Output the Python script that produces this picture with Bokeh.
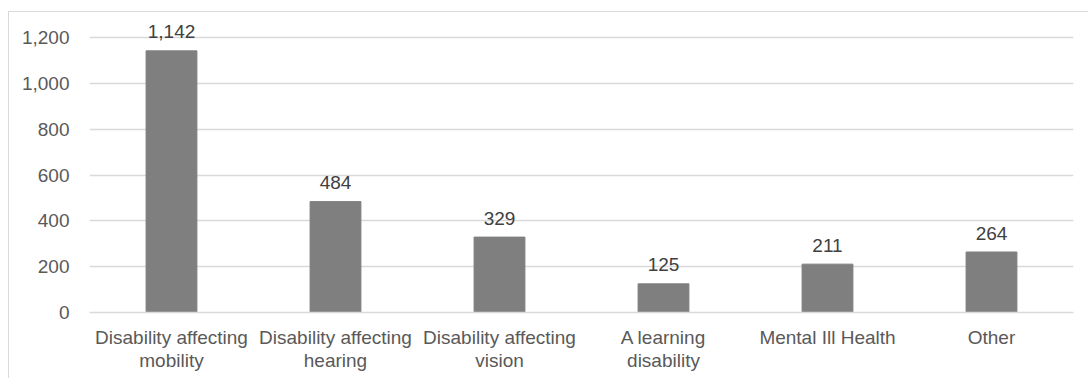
from bokeh.plotting import figure
from bokeh.models import (ColumnDataSource, FixedTicker, NumeralTickFormatter, LabelSet,
                          Range1d, CategoricalAxis, CustomJSTickFormatter)
from bokeh.core.properties import value
from bokeh.embed import file_html
from bokeh.resources import INLINE

categories = ["Disability affecting mobility", "Disability affecting hearing",
              "Disability affecting vision", "A learning disability",
              "Mental Ill Health", "Other"]
label_line1 = ["Disability affecting", "Disability affecting", "Disability affecting",
               "A learning", "Mental Ill Health", "Other"]
label_line2 = ["mobility", "hearing", "vision", "disability", "", ""]
values = [1142, 484, 329, 125, 211, 264]
value_labels = ["{:,}".format(v) for v in values]
y_ticks = [0, 200, 400, 600, 800, 1000, 1200]

source = ColumnDataSource(dict(cat=categories, val=values, lab=value_labels))

FONT = "Liberation Sans"
FS = "19px"

p = figure(x_range=categories, y_range=Range1d(0, 1270), width=1080, height=367,
           output_backend="svg", toolbar_location=None,
           min_border_left=80, min_border_right=16, min_border_top=9, min_border_bottom=67)
p.margin = (11, 0, 0, 8)
p.styles = {"border-top": "1px solid #d9d9d9", "border-left": "1px solid #d9d9d9"}

p.vbar(x="cat", top="val", width=0.31, source=source, fill_color="#7f7f7f",
       line_color="#7f7f7f")

p.add_layout(LabelSet(x="cat", y="val", text="lab", source=source, text_align="center",
                      text_baseline="middle", y_offset=19, text_font=value(FONT),
                      text_font_size=FS, text_color="#404040"))

p.outline_line_color = None
p.xgrid.grid_line_color = None
p.ygrid.grid_line_color = "#d9d9d9"
p.ygrid.grid_line_width = 1.5

p.yaxis.ticker = FixedTicker(ticks=y_ticks)
p.yaxis.formatter = NumeralTickFormatter(format="0,0")
p.yaxis.axis_line_color = None
p.yaxis.major_tick_line_color = None
p.yaxis.minor_tick_line_color = None
p.yaxis.major_label_standoff = 14
p.yaxis.major_label_text_font = FONT
p.yaxis.major_label_text_font_size = FS
p.yaxis.major_label_text_color = "#595959"

map_code = "const v = labels[tick]; return (v === undefined) ? tick : v;"

xa = p.xaxis[0]
xa.axis_line_color = "#d9d9d9"
xa.axis_line_width = 1.5
xa.major_tick_line_color = None
xa.minor_tick_line_color = None
xa.major_label_standoff = 8
xa.formatter = CustomJSTickFormatter(args=dict(labels=dict(zip(categories, label_line1))),
                                     code=map_code)
xa.major_label_text_font = FONT
xa.major_label_text_font_size = FS
xa.major_label_text_color = "#595959"

xa2 = CategoricalAxis()
xa2.axis_line_color = None
xa2.major_tick_line_color = None
xa2.minor_tick_line_color = None
xa2.major_label_standoff = -7
xa2.formatter = CustomJSTickFormatter(args=dict(labels=dict(zip(categories, label_line2))),
                                      code=map_code)
xa2.major_label_text_font = FONT
xa2.major_label_text_font_size = FS
xa2.major_label_text_color = "#595959"
p.add_layout(xa2, "below")

open("out.html", "w").write(file_html(p, INLINE))
